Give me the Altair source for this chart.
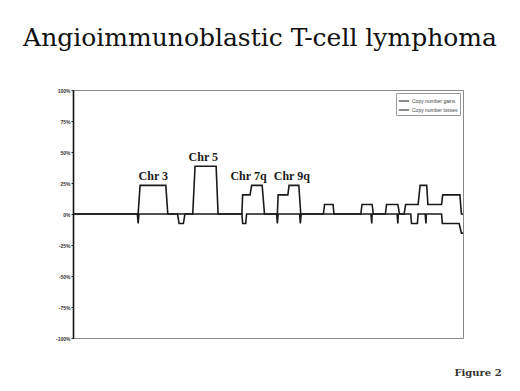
import altair as alt
import pandas as pd

# Genome position (0-100, left to right along the chromosomes) and frequency (%)
gain_pos = [0, 16.7, 17.2, 23.8, 24.3, 30.7, 31.3, 36.7, 37.2, 43.3, 43.5, 45.4, 45.8,
            48.5, 49.1, 52.4, 52.6, 55.1, 55.4, 57.9, 58.4, 64.2, 64.5, 66.7, 66.9,
            73.8, 74.1, 76.7, 77.0, 80.1, 80.4, 83.3, 83.7, 84.9, 85.3, 88.5, 89.0,
            90.7, 91.0, 94.5, 94.8, 99.2, 99.6, 100]
gain_pct = [0, 0, 23.1, 23.1, 0, 0, 38.5, 38.5, 0, 0, 15.4, 15.4, 23.1,
            23.1, 0, 0, 15.4, 15.4, 23.1, 23.1, 0, 0, 7.7, 7.7, 0,
            0, 7.7, 7.7, 0, 0, 7.7, 7.7, 0, 0, 7.7, 7.7, 23.1,
            23.1, 7.7, 7.7, 15.4, 15.4, 0, 0]

loss_pos = [0, 16.5, 16.7, 16.9, 26.8, 27.2, 28.3, 28.7, 43.3, 43.5, 44.3, 44.5,
            52.2, 52.4, 52.6, 58.1, 58.3, 58.5, 76.4, 76.6, 76.7, 83.1, 83.3, 83.4,
            86.6, 86.8, 88.3, 88.5, 90.3, 90.5, 90.6, 94.5, 94.7, 99.0, 99.6, 100]
loss_pct = [0, 0, -7.7, 0, 0, -7.7, -7.7, 0, 0, -7.7, -7.7, 0,
            0, -7.7, 0, 0, -7.7, 0, 0, -7.7, 0, 0, -7.7, 0,
            0, -7.7, -7.7, 0, 0, -7.7, 0, 0, -7.7, -7.7, -15.4, -15.4]

series_names = ["Copy number gains", "Copy number losses"]

label_text = ["Chr 3", "Chr 5", "Chr 7q", "Chr 9q"]
label_pos = [20.6, 33.4, 45.0, 56.1]
label_pct = [23.1, 38.5, 23.1, 23.1]

y_ticks = [-100, -75, -50, -25, 0, 25, 50, 75, 100]

rows = []
for i, (p, v) in enumerate(zip(gain_pos, gain_pct)):
    rows.append({"series": series_names[0], "pos": p, "pct": v, "order": i})
for i, (p, v) in enumerate(zip(loss_pos, loss_pct)):
    rows.append({"series": series_names[1], "pos": p, "pct": v, "order": i})
lines_df = pd.DataFrame(rows)

labels_df = pd.DataFrame({"label": label_text, "pos": label_pos, "pct": label_pct})

x_scale = alt.Scale(domain=[0, 100], nice=False, zero=False)
y_scale = alt.Scale(domain=[-100, 100], nice=False)

lines = alt.Chart(lines_df).mark_line(strokeWidth=1.6, interpolate="linear").encode(
    x=alt.X("pos:Q", scale=x_scale, axis=None),
    y=alt.Y(
        "pct:Q",
        scale=y_scale,
        axis=alt.Axis(
            values=y_ticks,
            tickCount=len(y_ticks),
            title=None,
            labelExpr="datum.value + '%'",
            labelFont="Liberation Sans",
            labelFontSize=5,
            labelFontWeight="bold",
            labelColor="#333",
            labelOverlap=False,
            tickSize=2,
            tickColor="#222",
            labelPadding=1,
            domainColor="#111",
            domainWidth=1.6,
            grid=False,
        ),
    ),
    color=alt.Color(
        "series:N",
        sort=series_names,
        scale=alt.Scale(domain=series_names, range=["#1a1a1a", "#1a1a1a"]),
        legend=alt.Legend(
            title=None,
            orient="top-right",
            offset=3,
            padding=2,
            strokeColor="#999",
            fillColor="white",
            symbolType="stroke",
            symbolSize=110,
            symbolStrokeWidth=1,
            labelFont="Liberation Sans",
            labelFontSize=5,
            labelColor="#444",
            rowPadding=0,
            labelOffset=2,
        ),
    ),
    detail="series:N",
    order="order:Q",
)

labels = alt.Chart(labels_df).mark_text(
    font="Liberation Serif",
    fontSize=12,
    fontWeight="bold",
    color="#1a1a1a",
    baseline="bottom",
    dy=-2,
).encode(
    x=alt.X("pos:Q", scale=x_scale),
    y=alt.Y("pct:Q", scale=y_scale),
    text="label:N",
)

figure_note = alt.Chart(pd.DataFrame({"t": ["Figure 2"]})).mark_text(
    font="DejaVu Serif",
    fontSize=10,
    fontWeight="bold",
    color="#333",
    align="center",
    baseline="alphabetic",
).encode(x=alt.value(405), y=alt.value(286), text="t:N")

chart = (
    alt.layer(lines, labels, figure_note)
    .properties(
        width=390,
        height=248,
        autosize=alt.AutoSizeParams(type="none"),
        padding={"left": 73, "top": 90, "right": 57, "bottom": 53},
        title=alt.TitleParams(
            "Angioimmunoblastic T-cell lymphoma",
            font="DejaVu Serif",
            fontSize=25,
            fontWeight="normal",
            color="#111",
            anchor="middle",
            dx=-8,
            offset=37,
        ),
        background="white",
    )
    .configure_view(stroke="#888", strokeWidth=1)
)

chart.save("out.html", embed_options={"renderer": "svg", "actions": False})
